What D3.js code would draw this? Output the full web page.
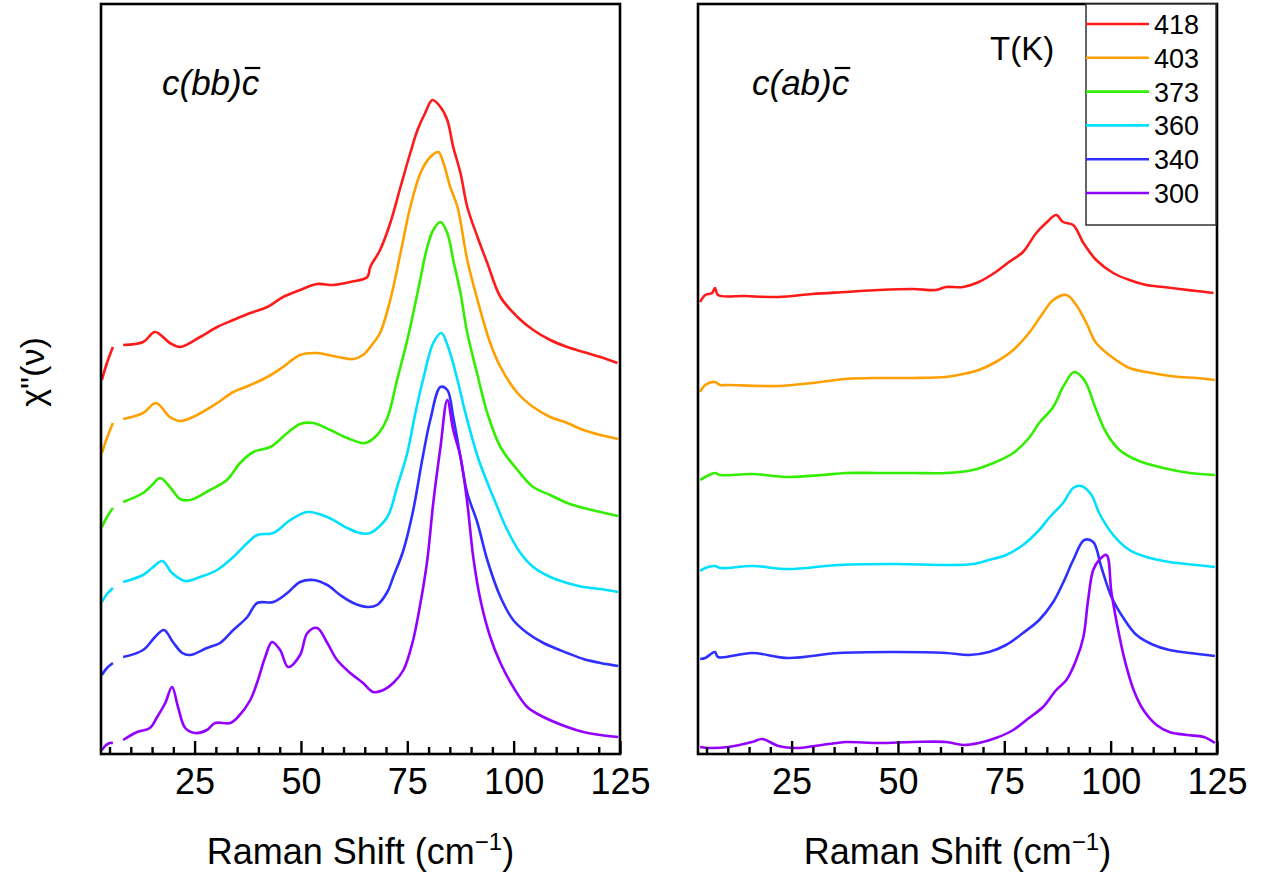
<!DOCTYPE html>
<html>
<head>
<meta charset="utf-8">
<script src="https://cdn.jsdelivr.net/npm/d3@7"></script>
<style>
  html, body { margin: 0; padding: 0; background: #fff; }
  svg { display: block; font-family: "Liberation Sans", Arial, sans-serif; }
</style>
</head>
<body>
<svg id="chart" width="1262" height="875"></svg>
<script>
// ---------------- DATA ----------------
// Temperatures (legend) and colours
const temps = ["418", "403", "373", "360", "340", "300"];
const colors = ["#ff1a1a", "#ffa000", "#33ee00", "#00e0ff", "#2f2fff", "#9400ff"];
const xTicksMajor = [25, 50, 75, 100, 125];
const xTicksMinor = [5, 10, 15, 20, 30, 35, 40, 45, 55, 60, 65, 70, 80, 85, 90, 95, 105, 110, 115, 120];

// Left panel c(bb)c : [Raman shift (cm-1), chi'' (arb. units, offset)]; null = gap in data
const bb418 = [[3.2,3.74],[4.4,3.91],[5.8,4.07],[7,null],[8.2,4.09],[12.9,4.12],[15.7,4.22],[19.2,4.11],[21.6,4.07],[26.3,4.17],[30.3,4.27],[34.1,4.34],[38.1,4.41],[42.1,4.47],[45.8,4.57],[49.8,4.64],[53.8,4.70],[57.6,4.69],[61.6,4.72],[65.6,4.77],[66.3,4.87],[68.6,5.04],[71.0,5.31],[73.4,5.67],[75.7,6.01],[77.4,6.24],[79.2,6.41],[80.9,6.54],[82.8,6.47],[84.4,6.34],[85.8,6.07],[87.5,5.81],[89.1,5.47],[91.5,5.17],[93.8,4.91],[96.9,4.57],[100.9,4.37],[104.6,4.24],[108.6,4.14],[112.6,4.07],[116.4,4.02],[120.4,3.97],[124.4,3.91]];
const bb403 = [[3.2,3.01],[4.4,3.16],[5.8,3.31],[7,null],[8.2,3.35],[12.9,3.41],[15.9,3.51],[19.2,3.37],[21.6,3.33],[24.6,3.37],[30.3,3.51],[34.1,3.62],[38.1,3.69],[42.1,3.77],[45.8,3.87],[49.8,3.99],[53.8,4.01],[57.6,3.98],[62.3,3.95],[64.6,3.99],[67.0,4.11],[68.6,4.21],[71.0,4.54],[73.4,5.01],[75.7,5.47],[78.1,5.81],[80.4,5.97],[82.3,6.02],[83.5,5.91],[85.1,5.67],[86.8,5.47],[89.1,4.94],[91.5,4.54],[94.5,4.11],[96.9,3.87],[100.9,3.61],[104.6,3.47],[108.6,3.37],[112.6,3.31],[116.4,3.24],[120.4,3.19],[124.6,3.15]];
const bb373 = [[3.2,2.27],[4.4,2.37],[5.8,2.46],[7,null],[8.2,2.52],[12.9,2.61],[15.0,2.69],[16.9,2.76],[19.2,2.67],[21.6,2.55],[23.9,2.54],[28.6,2.64],[32.6,2.74],[35.7,2.91],[38.8,3.02],[42.8,3.07],[46.8,3.21],[49.8,3.30],[52.9,3.31],[56.9,3.24],[60.9,3.16],[65.1,3.11],[67.9,3.19],[70.3,3.36],[72.6,3.74],[75.0,4.14],[77.4,4.61],[79.7,5.07],[81.1,5.24],[82.8,5.32],[84.4,5.21],[85.8,4.94],[87.5,4.61],[89.1,4.21],[91.5,3.79],[93.8,3.41],[96.9,3.07],[100.9,2.84],[104.6,2.67],[108.6,2.59],[112.6,2.51],[116.4,2.46],[120.4,2.42],[124.6,2.38]];
const bb360 = [[3.2,1.52],[4.4,1.60],[5.8,1.66],[7,null],[8.2,1.72],[12.9,1.79],[15.0,1.86],[17.4,1.93],[19.7,1.81],[22.8,1.73],[26.3,1.77],[30.3,1.84],[34.1,1.97],[37.4,2.11],[39.7,2.19],[43.5,2.21],[47.5,2.34],[51.5,2.42],[56.2,2.37],[60.9,2.26],[63.9,2.21],[66.3,2.21],[70.3,2.37],[72.6,2.67],[75.0,3.01],[76.9,3.41],[78.8,3.76],[81.1,4.11],[83.0,4.21],[84.6,4.07],[86.8,3.74],[88.6,3.42],[91.8,2.94],[95.2,2.57],[98.5,2.24],[101.6,2.01],[104.6,1.87],[108.6,1.77],[112.6,1.71],[116.4,1.67],[120.4,1.65],[124.6,1.62]];
const bb340 = [[3.2,0.79],[4.4,0.86],[5.8,0.91],[7,null],[8.2,0.97],[12.9,1.04],[15.7,1.17],[17.8,1.24],[19.9,1.12],[22.1,1.01],[23.9,0.99],[27.9,1.06],[31.0,1.11],[34.1,1.24],[37.4,1.37],[39.7,1.51],[43.5,1.52],[46.8,1.61],[49.8,1.72],[52.9,1.74],[56.2,1.69],[59.2,1.59],[62.3,1.51],[65.6,1.47],[67.9,1.49],[70.3,1.62],[71.7,1.77],[74.1,2.04],[76.4,2.44],[78.5,2.94],[80.4,3.34],[82.8,3.67],[84.4,3.64],[85.8,3.37],[87.5,2.97],[89.1,2.61],[91.5,2.31],[93.8,1.94],[96.9,1.57],[99.9,1.34],[103.2,1.21],[107.0,1.11],[112.6,1.01],[116.4,0.95],[120.4,0.91],[124.6,0.88]];
const bb300 = [[3.2,0.04],[4.2,0.09],[5.1,0.11],[5.8,0.11],[7,null],[8.2,0.14],[11.5,0.22],[14.5,0.26],[16.2,0.37],[18.1,0.51],[19.7,0.67],[21.1,0.47],[22.8,0.26],[25.1,0.21],[27.9,0.24],[29.8,0.31],[33.4,0.31],[35.2,0.37],[38.1,0.54],[39.9,0.74],[41.6,0.97],[43.2,1.12],[45.1,1.04],[47.0,0.87],[49.8,0.99],[51.5,1.21],[53.8,1.26],[56.2,1.11],[58.5,0.94],[61.6,0.81],[64.6,0.71],[67.0,0.62],[69.4,0.64],[71.7,0.71],[74.1,0.84],[76.2,1.11],[78.1,1.51],[79.7,1.94],[81.1,2.51],[82.8,3.07],[84.4,3.54],[85.8,3.24],[87.5,2.97],[89.1,2.51],[90.5,1.97],[92.2,1.54],[94.5,1.17],[96.9,0.91],[99.9,0.67],[103.2,0.47],[107.0,0.37],[112.6,0.27],[116.4,0.22],[120.4,0.19],[124.6,0.17]];

// Right panel c(ab)c
const ab418 = [[3.5,4.52],[4.7,4.59],[6.3,4.61],[7.0,4.66],[7.7,4.59],[14.1,4.58],[21.9,4.57],[29.9,4.60],[37.7,4.62],[45.5,4.64],[53.5,4.65],[58.9,4.64],[61.3,4.67],[65.3,4.67],[69.0,4.72],[73.0,4.82],[76.1,4.92],[79.4,5.02],[82.5,5.21],[84.8,5.31],[87.2,5.39],[88.8,5.32],[91.2,5.29],[93.6,5.11],[96.6,4.94],[100.6,4.81],[104.4,4.74],[108.4,4.69],[112.4,4.67],[116.2,4.65],[120.2,4.63],[124.2,4.61]];
const ab403 = [[3.5,3.62],[4.7,3.69],[7.0,3.72],[8.2,3.69],[10.1,3.69],[21.9,3.68],[29.9,3.71],[37.7,3.75],[45.5,3.76],[53.5,3.76],[61.3,3.77],[65.3,3.80],[69.0,3.84],[73.0,3.92],[77.1,4.04],[80.8,4.21],[84.1,4.41],[86.5,4.54],[89.6,4.59],[91.9,4.49],[94.3,4.31],[96.6,4.11],[100.6,3.96],[104.4,3.86],[108.4,3.82],[112.4,3.79],[116.2,3.77],[120.2,3.76],[124.5,3.74]];
const ab373 = [[3.5,2.74],[4.7,2.77],[7.0,2.81],[8.2,2.79],[15.7,2.80],[24.2,2.77],[32.2,2.79],[37.7,2.81],[45.5,2.81],[53.5,2.81],[61.3,2.81],[67.6,2.84],[73.0,2.92],[77.1,3.01],[80.8,3.16],[83.2,3.31],[86.5,3.47],[88.8,3.67],[91.4,3.82],[93.8,3.74],[96.6,3.44],[99.0,3.21],[102.1,3.04],[106.1,2.94],[112.4,2.86],[118.6,2.81],[124.5,2.79]];
const ab360 = [[3.5,1.83],[4.7,1.86],[7.0,1.88],[8.2,1.86],[15.7,1.88],[24.2,1.85],[36.0,1.89],[49.5,1.90],[61.3,1.89],[67.6,1.90],[71.4,1.94],[75.4,1.99],[79.4,2.09],[83.2,2.24],[85.5,2.36],[88.8,2.51],[91.2,2.66],[93.1,2.68],[95.5,2.59],[97.3,2.41],[100.6,2.19],[104.4,2.04],[108.4,1.97],[113.8,1.92],[120.2,1.89],[124.5,1.87]];
const ab340 = [[3.5,0.95],[4.7,0.96],[7.0,1.02],[7.7,0.97],[15.7,1.01],[24.2,0.96],[36.0,1.01],[49.5,1.02],[61.3,1.01],[66.7,0.99],[71.4,1.02],[75.4,1.09],[79.4,1.21],[83.2,1.34],[86.5,1.52],[88.8,1.71],[91.2,1.94],[93.8,2.14],[95.9,2.12],[97.8,1.87],[100.2,1.57],[103.0,1.36],[106.1,1.19],[110.1,1.09],[113.8,1.04],[118.6,1.01],[124.5,0.98]];
const ab300 = [[3.5,0.07],[5.8,0.06],[10.1,0.07],[15.7,0.12],[18.1,0.15],[21.9,0.08],[25.9,0.06],[33.7,0.10],[37.7,0.12],[45.5,0.11],[53.5,0.12],[61.3,0.12],[65.3,0.09],[69.0,0.11],[73.0,0.16],[77.1,0.24],[80.8,0.36],[84.1,0.47],[87.2,0.64],[89.6,0.74],[91.9,0.94],[93.6,1.17],[94.7,1.54],[95.9,1.84],[97.3,1.94],[99.0,1.99],[100.2,1.61],[102.1,1.17],[103.3,0.94],[105.4,0.64],[107.7,0.44],[110.8,0.29],[113.8,0.22],[117.9,0.19],[121.9,0.17],[124.5,0.11]];

const leftSeries = [bb418, bb403, bb373, bb360, bb340, bb300];
const rightSeries = [ab418, ab403, ab373, ab360, ab340, ab300];

// ---------------- DRAW ----------------
const svg = d3.select("#chart");
const plotTop = 4, plotBottom = 754;
const y = d3.scaleLinear().domain([0, 7.5]).range([plotBottom, plotTop]);
const panels = [
  { x: d3.scaleLinear().domain([3, 125]).range([101, 620]), series: leftSeries, label: "c(bb)", labelX: 162, id: "L" },
  { x: d3.scaleLinear().domain([3, 125]).range([698, 1217]), series: rightSeries, label: "c(ab)", labelX: 752, id: "R" }
];

panels.forEach(p => {
  const [x0, x1] = p.x.range();
  svg.append("clipPath").attr("id", "clip" + p.id)
    .append("rect").attr("x", x0).attr("y", plotTop).attr("width", x1 - x0).attr("height", plotBottom - plotTop);

  const line = d3.line()
    .defined(d => d[1] != null)
    .curve(d3.curveCatmullRom.alpha(0.5))
    .x(d => p.x(d[0])).y(d => y(d[1]));

  const g = svg.append("g").attr("clip-path", `url(#clip${p.id})`);
  p.series.forEach((s, i) => {
    g.append("path").datum(s)
      .attr("d", line)
      .attr("fill", "none")
      .attr("stroke", colors[i])
      .attr("stroke-width", 2.6)
      .attr("stroke-linejoin", "round");
  });

  // minor ticks
  svg.append("g").attr("transform", `translate(0,${plotBottom})`)
    .call(d3.axisBottom(p.x).tickValues(xTicksMinor).tickSize(-7).tickFormat(""))
    .call(a => a.select(".domain").remove())
    .call(a => a.selectAll("line").attr("stroke", "#000").attr("stroke-width", 2.4));
  // major ticks
  svg.append("g").attr("transform", `translate(0,${plotBottom})`)
    .call(d3.axisBottom(p.x).tickValues(xTicksMajor).tickSize(-13).tickPadding(14).tickFormat(d3.format("d")))
    .call(a => a.select(".domain").remove())
    .call(a => a.selectAll("line").attr("stroke", "#000").attr("stroke-width", 2.4))
    .call(a => a.selectAll("text").attr("font-size", 36).attr("fill", "#000")
      .attr("font-family", "'Liberation Sans', Arial, sans-serif"));

  // frame
  svg.append("rect").attr("x", x0).attr("y", plotTop).attr("width", x1 - x0).attr("height", plotBottom - plotTop)
    .attr("fill", "none").attr("stroke", "#000").attr("stroke-width", 2.6);

  // x label
  const xl = svg.append("text").attr("x", (x0 + x1) / 2).attr("y", 864)
    .attr("text-anchor", "middle").attr("font-size", 36).attr("fill", "#000");
  xl.append("tspan").text("Raman Shift (cm");
  xl.append("tspan").attr("dy", -14).attr("font-size", 24).text("\u22121");
  xl.append("tspan").attr("dy", 14).text(")");

  // panel label with overbar c
  const t1 = svg.append("text").attr("x", p.labelX).attr("y", 95)
    .attr("font-size", 35).attr("font-style", "italic").attr("fill", "#000").text(p.label);
  const w1 = t1.node().getComputedTextLength();
  const t2 = svg.append("text").attr("x", p.labelX + w1).attr("y", 95)
    .attr("font-size", 35).attr("font-style", "italic").attr("fill", "#000").text("c");
  const w2 = t2.node().getComputedTextLength();
  svg.append("line").attr("x1", p.labelX + w1 + 3).attr("x2", p.labelX + w1 + w2 + 1)
    .attr("y1", 68).attr("y2", 68).attr("stroke", "#000").attr("stroke-width", 2.2);
});

// y label
svg.append("text").attr("transform", "translate(44,372) rotate(-90)")
  .attr("text-anchor", "middle").attr("font-size", 34).attr("fill", "#000")
  .text("\u03C7\"(\u03BD)");

// T(K)
svg.append("text").attr("x", 990).attr("y", 60).attr("font-size", 33).attr("fill", "#000").text("T(K)");

// legend
const leg = svg.append("g");
leg.append("rect").attr("x", 1086).attr("y", plotTop).attr("width", 130).attr("height", 221)
  .attr("fill", "#fff").attr("stroke", "#333").attr("stroke-width", 1.5);
temps.forEach((t, i) => {
  const ly = 24 + i * 33.8;
  leg.append("line").attr("x1", 1086).attr("x2", 1149).attr("y1", ly).attr("y2", ly)
    .attr("stroke", colors[i]).attr("stroke-width", 2.6);
  leg.append("text").attr("x", 1154).attr("y", ly + 10).attr("font-size", 27).attr("fill", "#000").text(t);
});
</script>
</body>
</html>
